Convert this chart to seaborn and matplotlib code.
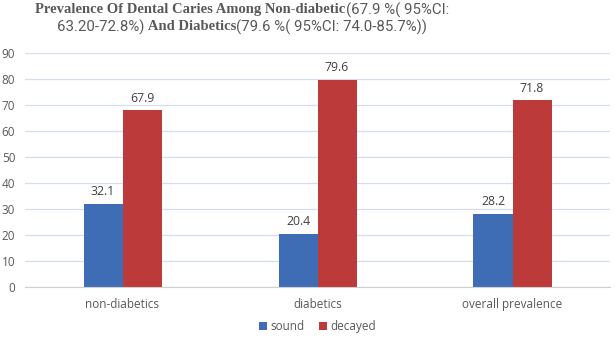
import matplotlib
matplotlib.use("Agg")
import matplotlib.pyplot as plt
import seaborn as sns
import pandas as pd

categories = ["non-diabetics", "diabetics", "overall prevalence"]
sound = [32.1, 20.4, 28.2]
decayed = [67.9, 79.6, 71.8]
series = ["sound", "decayed"]
colors = ["#3E6DB5", "#BD3A3A"]
yticks = [0, 10, 20, 30, 40, 50, 60, 70, 80, 90]

df = pd.DataFrame({
    "category": categories * 2,
    "value": sound + decayed,
    "series": ["sound"] * 3 + ["decayed"] * 3,
})

sns.set_style("white")
plt.rcParams["font.family"] = ["Open Sans", "DejaVu Sans"]

fig = plt.figure(figsize=(6.16, 3.41), dpi=100)
ax = fig.add_axes([25/616, 1-287/341, 585/616, (287-53)/341])

sns.barplot(data=df, x="category", y="value", hue="series", order=categories,
            hue_order=series, palette=colors, width=0.4, ax=ax, saturation=1,
            linewidth=0)

for c in ax.containers:
    ax.bar_label(c, fmt="%.1f", padding=4, fontsize=8.8, color="#404040")

ax.set_ylim(0, 90)
ax.set_yticks(yticks)
ax.set_xlim(-0.5, 2.5)
ax.grid(axis="y", color="#D5DEEE", linewidth=0.9)
ax.set_axisbelow(True)
for s in ["top", "right", "left"]:
    ax.spines[s].set_visible(False)
ax.spines["bottom"].set_color("#D0D0D0")
ax.tick_params(axis="both", length=0, labelsize=8.5, labelcolor="#595959")
ax.tick_params(axis="y", pad=7)
ax.tick_params(axis="x", pad=8)
ax.set_xlabel("")
ax.set_ylabel("")

leg = ax.legend(loc="upper center", bbox_to_anchor=(0.5, -0.095), ncol=2, frameon=False,
                fontsize=8.5, handlelength=0.7, handleheight=0.7, handletextpad=0.3,
                columnspacing=1.2)
for t in leg.get_texts():
    t.set_color("#595959")

# Mixed-font title
serif = dict(family="Liberation Serif", weight="bold", size=10.5, color="#595959")
sans = dict(family=["Roboto", "DejaVu Sans"], size=10.8, color="#595959")
lines = [
    [("Prevalence Of Dental Caries Among Non-diabetic", serif), ("(67.9 %( 95%CI:", sans)],
    [("63.20-72.8%)", sans), (" And Diabetics", serif), ("(79.6 %( 95%CI: 74.0-85.7%))", sans)],
]
ys = [1 - 10/341, 1 - 27/341]
fig.canvas.draw()
r = fig.canvas.get_renderer()
for pieces, y in zip(lines, ys):
    texts = [fig.text(0, y, s, va="center", ha="left", **kw) for s, kw in pieces]
    widths = [t.get_window_extent(r).width for t in texts]
    total = sum(widths)
    x = 242 - total/2
    for t, w in zip(texts, widths):
        t.set_x(x/616)
        x += w

fig.savefig("out.png", dpi=100)
